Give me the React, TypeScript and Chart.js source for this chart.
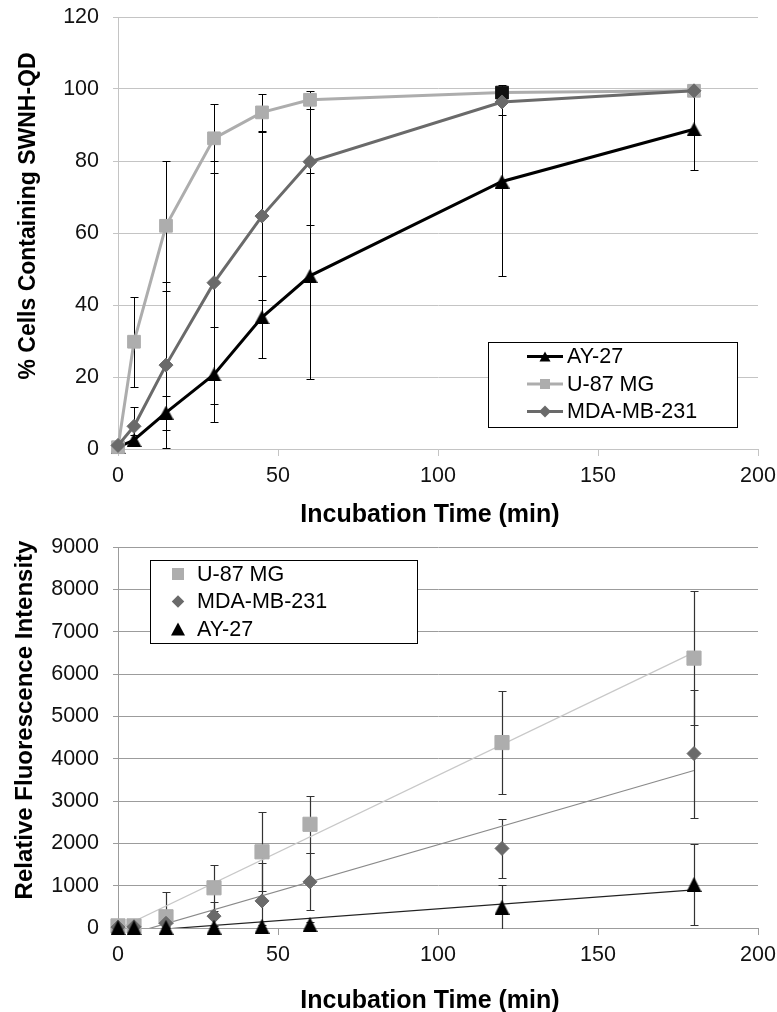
import React, { useEffect, useRef } from 'react';
import { Chart, registerables } from 'chart.js';

Chart.register(...registerables);

const FONT = "'Liberation Sans', Arial, Helvetica, sans-serif";

// ---------- data ----------
const times = [0, 5, 15, 30, 45, 60, 120, 180];
const xTickValues = [0, 50, 100, 150, 200];
const topYTicks = [0, 20, 40, 60, 80, 100, 120];
const bottomYTicks = [0, 1000, 2000, 3000, 4000, 5000, 6000, 7000, 8000, 9000];

const seriesNames = ['AY-27', 'U-87 MG', 'MDA-MB-231'];

// % cells containing SWNH-QD
const pctAY27 = [0.5, 2.5, 10.1, 20.7, 36.6, 48.1, 74.3, 88.8];
const pctAY27Err = [0.4, 1.5, 4.7, 13.3, 11.4, 28.6, 26.3, 11.3];
const pctU87 = [0.5, 29.8, 62.0, 86.3, 93.5, 97.0, 99.0, 99.5];
const pctU87Err = [0.3, 12.5, 18.0, 9.5, 5.2, 2.5, 2.2, 0.3];
const pctMDA = [1.0, 6.3, 23.3, 46.2, 64.7, 79.8, 96.4, 99.5];
const pctMDAErr = [0.5, 5.4, 23.0, 33.8, 23.3, 17.6, 3.5, 0.3];

// relative fluorescence intensity
const rfiU87 = [50, 50, 265, 950, 1800, 2450, 4380, 6375];
const rfiU87Err = [30, 30, 590, 550, 930, 670, 1220, 1575];
const rfiMDA = [20, 30, 110, 280, 640, 1090, 1880, 4120];
const rfiMDAErr = [20, 20, 60, 325, 885, 670, 690, 1510];
const rfiAY27 = [10, 10, 15, 20, 40, 80, 490, 1030];
const rfiAY27Err = [10, 10, 10, 20, 30, 60, 520, 960];

// ---------- styles ----------
const C_AY = '#000000';
const C_U87 = '#adadad';
const C_MDA = '#6a6a6a';

const TOP_H = 530;
const BOTTOM_H = 1012 - TOP_H;

const pts = (ys: number[]) => times.map((t, i) => ({ x: t, y: ys[i] }));

function linFit(xs: number[], ys: number[]) {
  const n = xs.length;
  const mx = xs.reduce((a, b) => a + b, 0) / n;
  const my = ys.reduce((a, b) => a + b, 0) / n;
  let sxy = 0;
  let sxx = 0;
  for (let i = 0; i < n; i++) {
    sxy += (xs[i] - mx) * (ys[i] - my);
    sxx += (xs[i] - mx) * (xs[i] - mx);
  }
  const slope = sxy / sxx;
  const icpt = my - slope * mx;
  const x0 = Math.min(...xs);
  const x1 = Math.max(...xs);
  return [
    { x: x0, y: icpt + slope * x0 },
    { x: x1, y: icpt + slope * x1 },
  ];
}

function triangleSprite(w: number, h: number, color: string) {
  const c = document.createElement('canvas');
  c.width = w;
  c.height = h;
  const g = c.getContext('2d') as CanvasRenderingContext2D;
  g.fillStyle = color;
  g.beginPath();
  g.moveTo(w / 2, 0);
  g.lineTo(w, h);
  g.lineTo(0, h);
  g.closePath();
  g.fill();
  return c;
}

type ErrSpec = { values: number[]; errors: number[]; color: string; width: number; cap: number };

function errorBarsPlugin(specs: ErrSpec[]) {
  return {
    id: 'errorBars',
    beforeDatasetsDraw(chart: any) {
      const { ctx, chartArea: a } = chart;
      const xs = chart.scales.x;
      const ys = chart.scales.y;
      ctx.save();
      ctx.beginPath();
      ctx.rect(a.left, a.top, a.right - a.left, a.bottom - a.top + 1);
      ctx.clip();
      for (const s of specs) {
        ctx.strokeStyle = s.color;
        ctx.lineWidth = s.width;
        s.values.forEach((v, i) => {
          const e = s.errors[i];
          if (!e) return;
          const px = Math.round(xs.getPixelForValue(times[i])) + 0.5;
          const top = Math.round(ys.getPixelForValue(v + e)) + 0.5;
          const bot = Math.round(ys.getPixelForValue(v - e)) + 0.5;
          ctx.beginPath();
          ctx.moveTo(px, top);
          ctx.lineTo(px, bot);
          ctx.moveTo(px - s.cap, top);
          ctx.lineTo(px + s.cap, top);
          ctx.moveTo(px - s.cap, bot);
          ctx.lineTo(px + s.cap, bot);
          ctx.stroke();
        });
      }
      ctx.restore();
    },
  };
}

function drawShape(ctx: CanvasRenderingContext2D, style: string, x: number, y: number, w: number, h: number, color: string) {
  ctx.fillStyle = color;
  ctx.beginPath();
  if (style === 'triangle') {
    ctx.moveTo(x, y - h / 2);
    ctx.lineTo(x + w / 2, y + h / 2);
    ctx.lineTo(x - w / 2, y + h / 2);
  } else if (style === 'rect') {
    ctx.rect(x - w / 2, y - h / 2, w, h);
  } else {
    ctx.moveTo(x, y - h / 2);
    ctx.lineTo(x + w / 2, y);
    ctx.lineTo(x, y + h / 2);
    ctx.lineTo(x - w / 2, y);
  }
  ctx.closePath();
  ctx.fill();
}

type LegendItem = { label: string; color: string; style: string; w: number; h: number; lineColor?: string };
type LegendCfg = {
  box: number[];
  rows: number[];
  markerX: number;
  line?: number[];
  textX: number;
  font: string;
  items: LegendItem[];
};

type TitleCfg = { text: string; x: number; y: number; rotate: boolean; font: string };

function decorPlugin(legend: LegendCfg, titles: TitleCfg[]) {
  return {
    id: 'decor',
    afterDraw(chart: any) {
      const ctx: CanvasRenderingContext2D = chart.ctx;
      ctx.save();
      const [bx, by, bw, bh] = legend.box;
      ctx.fillStyle = '#ffffff';
      ctx.fillRect(bx, by, bw, bh);
      ctx.strokeStyle = '#000000';
      ctx.lineWidth = 1;
      ctx.strokeRect(bx + 0.5, by + 0.5, bw, bh);
      legend.items.forEach((it, i) => {
        const y = legend.rows[i];
        if (legend.line && it.lineColor) {
          ctx.strokeStyle = it.lineColor;
          ctx.lineWidth = 3;
          ctx.beginPath();
          ctx.moveTo(legend.line[0], y);
          ctx.lineTo(legend.line[1], y);
          ctx.stroke();
        }
        drawShape(ctx, it.style, legend.markerX, y, it.w, it.h, it.color);
        ctx.fillStyle = '#000000';
        ctx.font = legend.font;
        ctx.textAlign = 'left';
        ctx.textBaseline = 'middle';
        ctx.fillText(it.label, legend.textX, y + 1);
      });
      for (const t of titles) {
        ctx.save();
        ctx.fillStyle = '#000000';
        ctx.font = t.font;
        ctx.textAlign = 'center';
        ctx.textBaseline = 'alphabetic';
        ctx.translate(t.x, t.y);
        if (t.rotate) ctx.rotate(-Math.PI / 2);
        ctx.fillText(t.text, 0, 0);
        ctx.restore();
      }
      ctx.restore();
    },
  };
}

function makeScales(opts: {
  yTicks: number[];
  gridColor: string;
  xHeight: number;
  tickFont: number;
  xPad: number;
}) {
  const tickFont = { family: FONT, size: opts.tickFont };
  return {
    x: {
      type: 'linear',
      min: 0,
      max: 200,
      afterBuildTicks: (s: any) => {
        s.ticks = xTickValues.map((v) => ({ value: v }));
      },
      ticks: {
        font: tickFont,
        color: '#111111',
        padding: opts.xPad,
        maxRotation: 0,
        callback: (v: any) => String(v),
      },
      grid: { drawOnChartArea: false, drawTicks: true, tickLength: 7, color: opts.gridColor, lineWidth: 1 },
      border: { display: true, color: opts.gridColor, width: 1 },
      afterFit: (s: any) => {
        s.height = opts.xHeight;
        s.paddingLeft = 0;
        s.paddingRight = 0;
        s.paddingTop = 0;
        s.paddingBottom = 0;
      },
    },
    y: {
      type: 'linear',
      min: opts.yTicks[0],
      max: opts.yTicks[opts.yTicks.length - 1],
      afterBuildTicks: (s: any) => {
        s.ticks = opts.yTicks.map((v) => ({ value: v }));
      },
      ticks: {
        font: tickFont,
        color: '#111111',
        padding: 14,
        callback: (v: any) => String(v),
      },
      grid: { color: opts.gridColor, lineWidth: 1, drawTicks: true, tickLength: 5 },
      border: { display: true, color: opts.gridColor, width: 1 },
      afterFit: (s: any) => {
        s.width = 118;
        s.paddingLeft = 0;
        s.paddingRight = 0;
        s.paddingTop = 0;
        s.paddingBottom = 0;
      },
    },
  };
}

function topConfig(): any {
  const lineDs = (label: string, data: number[], color: string, style: any, r: number, order: number, pointColors?: any) => ({
    label,
    data: pts(data),
    showLine: true,
    borderColor: color,
    borderWidth: 3,
    backgroundColor: color,
    pointStyle: style,
    pointRadius: r,
    pointBackgroundColor: pointColors || color,
    pointBorderColor: pointColors || color,
    pointBorderWidth: 1,
    order,
    clip: false,
  });
  return {
    type: 'scatter',
    data: {
      datasets: [
        lineDs(seriesNames[0], pctAY27, C_AY, triangleSprite(15, 14, C_AY), 7.5, 2),
        lineDs(seriesNames[1], pctU87, C_U87, 'rect', 9, 1, (c: any) => (c.dataIndex === 6 ? '#111111' : C_U87)),
        lineDs(seriesNames[2], pctMDA, C_MDA, 'rectRot', 7, 0),
      ],
    },
    options: {
      animation: false,
      responsive: false,
      devicePixelRatio: 1,
      layout: { padding: { left: 0, right: 19, top: 17, bottom: 0 } },
      plugins: { legend: { display: false }, tooltip: { enabled: false } },
      scales: makeScales({ yTicks: topYTicks, gridColor: '#c4c4c4', xHeight: TOP_H - 449, tickFont: 21.5, xPad: 7 }),
    },
    plugins: [
      errorBarsPlugin([
        { values: pctAY27, errors: pctAY27Err, color: '#000000', width: 1, cap: 4 },
        { values: pctU87, errors: pctU87Err, color: '#000000', width: 1, cap: 4 },
        { values: pctMDA, errors: pctMDAErr, color: '#000000', width: 1, cap: 4 },
      ]),
      decorPlugin(
        {
          box: [488, 342, 249, 85],
          rows: [356.5, 384, 411.5],
          markerX: 545,
          line: [527, 563],
          textX: 567,
          font: `21.5px ${FONT}`,
          items: [
            { label: seriesNames[0], color: C_AY, style: 'triangle', w: 11, h: 10, lineColor: C_AY },
            { label: seriesNames[1], color: C_U87, style: 'rect', w: 10, h: 10, lineColor: C_U87 },
            { label: seriesNames[2], color: C_MDA, style: 'rectRot', w: 12, h: 12, lineColor: C_MDA },
          ],
        },
        [
          { text: 'Incubation Time (min)', x: 430, y: 522, rotate: false, font: `bold 25px ${FONT}` },
          { text: '% Cells Containing SWNH-QD', x: 35, y: 216, rotate: true, font: `bold 23px ${FONT}` },
        ]
      ),
    ],
  };
}

function bottomConfig(): any {
  const off = TOP_H;
  const ptDs = (label: string, data: number[], color: string, style: any, r: number, order: number) => ({
    label,
    data: pts(data),
    showLine: false,
    backgroundColor: color,
    borderColor: color,
    pointStyle: style,
    pointRadius: r,
    pointBorderWidth: 1,
    order,
    clip: false,
  });
  const trend = (label: string, data: number[], color: string, order: number) => ({
    label,
    data: linFit(times, data),
    showLine: true,
    borderColor: color,
    borderWidth: 1.2,
    pointRadius: 0,
    order,
    clip: 0,
  });
  return {
    type: 'scatter',
    data: {
      datasets: [
        ptDs(seriesNames[0], rfiAY27, C_AY, triangleSprite(15, 15, C_AY), 8, 0),
        ptDs(seriesNames[2], rfiMDA, C_MDA, 'rectRot', 7, 1),
        ptDs(seriesNames[1], rfiU87, C_U87, 'rect', 10, 2),
        trend('AY-27 trend', rfiAY27, '#222222', 3),
        trend('MDA-MB-231 trend', rfiMDA, '#8a8a8a', 4),
        trend('U-87 MG trend', rfiU87, '#c8c8c8', 5),
      ],
    },
    options: {
      animation: false,
      responsive: false,
      devicePixelRatio: 1,
      layout: { padding: { left: 0, right: 19, top: 547 - off, bottom: 0 } },
      plugins: { legend: { display: false }, tooltip: { enabled: false } },
      scales: makeScales({ yTicks: bottomYTicks, gridColor: '#9c9c9c', xHeight: 1012 - 928, tickFont: 21.5, xPad: 7 }),
    },
    plugins: [
      errorBarsPlugin([
        { values: rfiU87, errors: rfiU87Err, color: '#333333', width: 1.2, cap: 4 },
        { values: rfiMDA, errors: rfiMDAErr, color: '#333333', width: 1.2, cap: 4 },
        { values: rfiAY27, errors: rfiAY27Err, color: '#333333', width: 1.2, cap: 4 },
      ]),
      decorPlugin(
        {
          box: [150, 560 - off, 267, 83],
          rows: [574 - off, 601.5 - off, 629 - off],
          markerX: 178,
          textX: 197,
          font: `21.5px ${FONT}`,
          items: [
            { label: seriesNames[1], color: C_U87, style: 'rect', w: 12, h: 12 },
            { label: seriesNames[2], color: C_MDA, style: 'rectRot', w: 12.5, h: 12.5 },
            { label: seriesNames[0], color: C_AY, style: 'triangle', w: 14, h: 13 },
          ],
        },
        [
          { text: 'Incubation Time (min)', x: 430, y: 1008 - off, rotate: false, font: `bold 25px ${FONT}` },
          { text: 'Relative Fluorescence Intensity', x: 32, y: 720 - off, rotate: true, font: `bold 24px ${FONT}` },
        ]
      ),
    ],
  };
}

function ChartCanvas({ height, factory, top }: { height: number; factory: () => any; top: number }) {
  const ref = useRef<HTMLCanvasElement | null>(null);
  useEffect(() => {
    if (!ref.current) return;
    const chart = new Chart(ref.current, factory());
    return () => chart.destroy();
  }, [factory]);
  return (
    <canvas
      ref={ref}
      width={777}
      height={height}
      style={{ position: 'absolute', left: 0, top, width: 777, height, display: 'block' }}
    />
  );
}

export default function App() {
  return (
    <div style={{ position: 'absolute', left: 0, top: 0, width: 777, height: 1012, background: '#ffffff', overflow: 'hidden' }}>
      <ChartCanvas height={TOP_H} factory={topConfig} top={0} />
      <ChartCanvas height={BOTTOM_H} factory={bottomConfig} top={TOP_H} />
    </div>
  );
}
